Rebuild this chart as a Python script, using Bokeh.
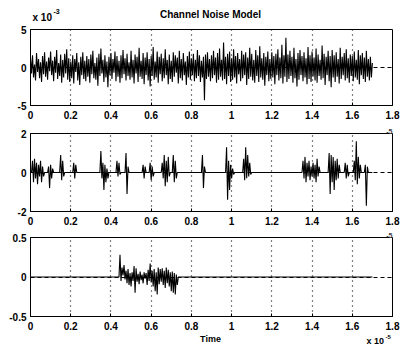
import numpy as np
from bokeh.plotting import figure
from bokeh.layouts import column
from bokeh.models import Label, Range1d, FixedTicker, Title
from bokeh.embed import file_html
from bokeh.resources import INLINE

# ---------------- data (time in 1e-5 s) ----------------
x_ticks = [0, 0.2, 0.4, 0.6, 0.8, 1, 1.2, 1.4, 1.6, 1.8]
x_tick_labels = ["0", "0.2", "0.4", "0.6", "0.8", "1", "1.2", "1.4", "1.6", "1.8"]

top_yticks = [-5, 0, 5]
top_ylabels = ["-5", "0", "5"]
mid_yticks = [-2, 0, 2]
mid_ylabels = ["-2", "0", "2"]
bot_yticks = [-0.5, 0, 0.5]
bot_ylabels = ["-0.5", "0", "0.5"]

sample_dt = 0.005
series_end = 1.7

top_noise = [  # x 1e-3, one row per 0.1 of time
    1.2, -0.8, 1.6, -1.3, 0.4, -1.7, 1.9, -0.6, 1.1, -1.4, 0.7, -1.9, 1.5, -0.9, 2.0, -1.2, 0.8, -1.6, 1.3, -0.5,
    2.1, -1.0, 0.9, -1.8, 1.4, -0.7, 2.3, -1.5, 0.6, -1.1, 1.7, -2.0, 1.0, -1.3, 1.8, -0.8, 2.4, -1.6, 1.2, -1.9,
    0.8, -1.4, 1.6, -2.1, 1.1, -0.6, 1.9, -1.7, 0.7, -2.3, 1.4, -1.0, 2.0, -1.5, 0.9, -1.8, 1.5, -1.2, 1.1, -2.0,
    1.7, -0.9, 2.2, -1.4, 0.6, -1.6, 1.3, -2.4, 1.8, -1.1, 2.5, -0.8, 1.0, -1.9, 1.6, -1.3, 0.8, -2.6, 1.4, -1.0,
    1.9, -1.5, 1.1, -0.7, 2.1, -1.8, 1.5, -1.2, 0.9, -2.0, 1.6, -1.4, 2.3, -0.9, 1.2, -1.7, 1.8, -1.1, 0.7, -1.6,
    2.2, -1.3, 1.0, -2.1, 1.7, -0.8, 1.4, -1.9, 2.6, -1.2, 0.9, -1.5, 1.9, -2.2, 1.3, -1.0, 2.0, -1.7, 1.1, -2.5,
    1.5, -1.1, 2.7, -1.6, 0.8, -1.3, 2.1, -2.0, 1.4, -0.9, 1.8, -1.8, 1.2, -1.4, 2.4, -1.0, 1.0, -2.2, 1.7, -1.5,
    0.9, -1.9, 2.0, -1.2, 1.6, -0.7, 1.3, -2.1, 2.2, -1.4, 1.1, -1.7, 1.9, -1.0, 0.8, -2.3, 1.5, -1.3, 2.1, -1.6,
    1.2, -1.0, 1.8, -1.8, 1.0, -1.4, 2.3, -1.1, 1.6, -1.9, 0.9, -1.3, 1.4, -4.3, 1.7, -1.5, 2.0, -1.2, 1.1, -1.8,
    1.6, -1.4, 2.2, -1.0, 1.3, -2.0, 1.9, -1.6, 2.5, -1.2, 1.0, -1.7, 3.3, -1.5, 1.4, -2.2, 1.8, -1.1, 2.1, -1.9,
    1.2, -1.6, 2.4, -1.3, 1.5, -2.1, 1.9, -0.9, 1.1, -1.8, 2.2, -1.4, 1.7, -1.0, 2.0, -2.3, 1.3, -1.5, 2.6, -1.2,
    1.8, -1.7, 1.0, -2.0, 2.3, -1.1, 1.6, -1.9, 2.8, -1.3, 1.2, -1.6, 1.9, -2.4, 1.4, -1.0, 2.1, -1.8, 1.1, -1.5,
    2.0, -1.3, 1.5, -2.2, 1.8, -1.0, 2.4, -1.7, 1.3, -1.4, 3.0, -2.1, 1.6, -1.2, 3.9, -1.9, 1.7, -1.5, 2.2, -1.1,
    1.4, -2.0, 2.6, -1.4, 1.1, -2.5, 1.9, -1.6, 2.3, -1.0, 1.5, -1.8, 2.0, -1.3, 1.2, -2.2, 2.7, -1.5, 1.6, -1.9,
    2.1, -1.2, 1.3, -1.7, 2.5, -2.0, 1.7, -1.1, 1.0, -1.6, 2.9, -1.4, 1.8, -2.3, 1.4, -1.0, 2.2, -1.8, 1.5, -2.6,
    2.3, -1.3, 1.6, -1.9, 2.0, -1.2, 1.1, -2.1, 2.6, -1.5, 1.4, -1.0, 1.9, -1.7, 2.4, -1.4, 1.2, -2.0, 1.7, -1.1,
    1.5, -1.8, 2.1, -1.3, 1.0, -1.6, 2.3, -2.2, 1.6, -1.0, 1.9, -1.5, 1.3, -1.9, 2.2, -1.2, 1.1, -1.7, 1.4, -1.3,
    0.6,
]

mid_starts = [0.01, 0.09, 0.15, 0.215, 0.35, 0.43, 0.475, 0.56, 0.595, 0.655,
              0.71, 0.855, 0.975, 1.06, 1.355, 1.485, 1.565, 1.61, 1.665]
mid_bursts = [
    [0.6, -0.5, 0.7, -0.3, 0.5, -0.6, 0.4, -0.2, 0.6, -0.5, 0.3, -0.2],
    [0.3, -0.8, 0.4, -0.3, 0.2],
    [0.9, -0.4, 0.6, -0.2],
    [0.5, -0.3, 0.4],
    [1.1, -0.3, 0.5, -0.9, 0.4, -0.5, 0.2, -0.3],
    [0.6, -0.2, 0.5, -0.1],
    [1.0, -1.1, 0.3],
    [0.4, -0.3, 0.3],
    [0.5, -0.4, 0.3, -0.2],
    [0.5, -0.3, 0.9, -0.7, 0.6, -0.5, 0.8, -0.2],
    [0.9, -0.5, 0.6, -0.3],
    [0.9, -0.8, 0.3],
    [1.3, -1.4, 0.6, -0.9, 0.4, -0.3, 0.2, -0.1],
    [0.7, -0.4, 1.3, -0.3, 0.9, -0.2, 0.5, -0.1],
    [0.6, -0.3, 0.8, -0.5, 0.5, -0.2, 0.6, -0.4, 0.3, -0.2, 0.5, -0.3, 0.4, -0.5, 0.7, -0.2, 0.3],
    [1.0, -1.1, 0.9, -0.5, 0.8, -0.9, 0.6, -0.4, 0.7, -0.3, 0.4],
    [0.5, -0.3, 0.4, -0.2],
    [0.6, -0.4, 1.6, -0.6, 0.8, -0.3, 0.4],
    [0.4, -1.7, 0.3],
]

bot_starts = [0.445]
bot_bursts = [[
    0.28, -0.05, 0.12, 0.02, 0.15, -0.03, 0.08, -0.08, 0.10, -0.10,
    0.05, -0.12, 0.06, -0.05, 0.14, -0.20, 0.11, -0.06, 0.04, -0.09,
    0.07, -0.04, 0.03, -0.08, 0.06, -0.02, 0.05, -0.10, 0.09, -0.05,
    0.17, -0.07, 0.08, -0.12, 0.10, -0.18, 0.06, -0.22, 0.12, -0.09,
    0.10, -0.06, 0.11, -0.10, 0.08, -0.14, 0.12, -0.08, 0.09, -0.12,
    0.06, -0.18, 0.07, -0.20, 0.05, -0.22, 0.03, -0.10,
]]


def build_series(starts, bursts):
    n = int(round(series_end / sample_dt)) + 1
    t = np.arange(n) * sample_dt
    y = np.zeros(n)
    for s, vals in zip(starts, bursts):
        i0 = int(round(s / sample_dt))
        for k, v in enumerate(vals):
            y[i0 + k] = v
    return t, y


FONT = "Liberation Sans"
W = 400
LEFT = 30
RIGHT = 392


def make_fig(height, top, bottom, yr, yticks, ylabels):
    p = figure(width=W, height=height, output_backend="svg", toolbar_location=None,
               x_range=Range1d(0, 1.8), y_range=Range1d(*yr),
               min_border_left=LEFT, min_border_right=W - RIGHT,
               min_border_top=top, min_border_bottom=bottom)
    p.outline_line_color = "black"
    p.outline_line_width = 1
    p.outline_line_alpha = 1
    p.xaxis.ticker = FixedTicker(ticks=x_ticks)
    p.xaxis.major_label_overrides = {t: l for t, l in zip(x_ticks, x_tick_labels)}
    p.yaxis.ticker = FixedTicker(ticks=yticks)
    p.yaxis.major_label_overrides = {t: l for t, l in zip(yticks, ylabels)}
    for ax in (p.xaxis, p.yaxis):
        ax.major_tick_in = 3
        ax.major_tick_out = 0
        ax.minor_tick_line_color = None
        ax.axis_line_color = "black"
        ax.major_tick_line_color = "black"
        ax.major_label_text_font = FONT
        ax.major_label_text_font_style = "bold"
        ax.major_label_text_font_size = "10px"
        ax.major_label_text_color = "black"
    p.xaxis.major_label_standoff = 5
    p.yaxis.major_label_standoff = 4
    p.xgrid.ticker = FixedTicker(ticks=x_ticks)
    p.xgrid.grid_line_color = "black"
    p.xgrid.grid_line_dash = "1 4"
    p.xgrid.grid_line_width = 1.2
    p.ygrid.ticker = FixedTicker(ticks=yticks)
    p.ygrid.grid_line_color = "black"
    p.ygrid.grid_line_dash = "4 3"
    p.ygrid.grid_line_width = 1
    p.background_fill_color = "white"
    p.border_fill_color = "white"
    return p


def text_strip(height):
    # plain strip, frame spans the same columns as the axes; x = page px, y = px from strip top
    s = figure(width=W, height=height, output_backend="svg", toolbar_location=None,
               x_range=Range1d(LEFT, RIGHT), y_range=Range1d(height, 0),
               x_axis_location=None, y_axis_location=None,
               min_border_left=LEFT, min_border_right=W - RIGHT,
               min_border_top=0, min_border_bottom=0)
    s.grid.visible = False
    s.outline_line_color = None
    s.background_fill_color = "white"
    s.border_fill_color = "white"
    return s


def label(p, x, y, s, size, align="left"):
    p.add_layout(Label(x=x, y=y, text=s, text_font=FONT, text_font_size=size,
                       text_font_style="bold", text_align=align,
                       text_baseline="middle", text_color="black"))


def exp_title(p, s):
    p.add_layout(Title(text=s, align="right", text_font=FONT, text_font_size="7px",
                       text_font_style="bold", standoff=0, offset=0), "above")


# header strip (title and exponent of the top axes)
head = text_strip(22)
label(head, 210, 14, "Channel Noise Model", "10px", align="center")
label(head, 32, 17, "x 10", "10px")
label(head, 53, 11, "-3", "7px")

# top
p1 = make_fig(100, 7, 17, (-5, 5), top_yticks, top_ylabels)
t1 = np.arange(len(top_noise)) * sample_dt
p1.line(t1, top_noise, line_color="black", line_width=1.1)

# middle
p2 = make_fig(106, 11, 17, (-2, 2), mid_yticks, mid_ylabels)
t2, y2 = build_series(mid_starts, mid_bursts)
p2.line(t2, y2, line_color="black", line_width=1.1)
exp_title(p2, "-5")

# bottom
p3 = make_fig(105, 9, 17, (-0.5, 0.5), bot_yticks, bot_ylabels)
t3, y3 = build_series(bot_starts, bot_bursts)
p3.line(t3, y3, line_color="black", line_width=1.1)
exp_title(p3, "-5")

# footer strip (x-axis label and exponent)
foot = text_strip(12)
label(foot, 210, 5, "Time", "9px", align="center")
label(foot, 366, 7, "x 10", "9px")
label(foot, 385, 3, "-5", "6px")

layout = column(head, p1, p2, p3, foot, spacing=0)
open("out.html", "w").write(file_html(layout, INLINE))
